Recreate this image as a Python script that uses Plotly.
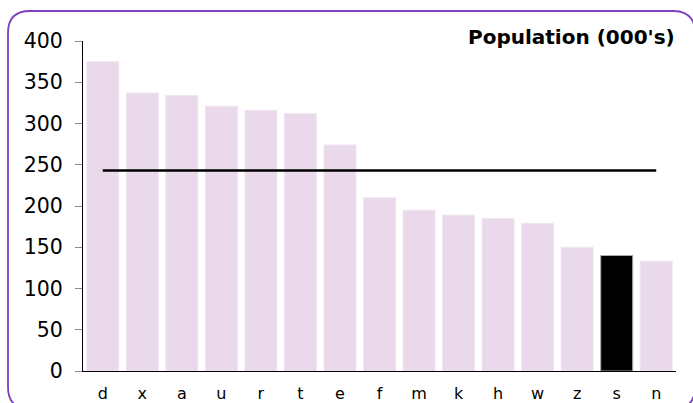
import plotly.graph_objects as go

categories = ["d", "x", "a", "u", "r", "t", "e", "f", "m", "k", "h", "w", "z", "s", "n"]
population = [375, 337, 334, 321, 316, 312, 274, 210, 195, 189, 185, 179, 150, 140, 133]
highlight = "s"
average = 243
y_ticks = [0, 50, 100, 150, 200, 250, 300, 350, 400]
title_text = "Population (000's)"

W, H = 693, 403
PLOT_L, PLOT_R, PLOT_T, PLOT_B = 83, 676, 41, 371  # pixels
ML, MR, MT, MB = PLOT_L, W - PLOT_R, PLOT_T, H - PLOT_B
PW, PH = PLOT_R - PLOT_L, PLOT_B - PLOT_T


def px(x):
    return (x - PLOT_L) / PW


def py(y):
    return (PLOT_B - y) / PH


pink = "rgb(234,217,235)"
colors = ["black" if c == highlight else pink for c in categories]
edges = ["rgb(170,170,170)" if c == highlight else "rgb(240,230,241)" for c in categories]

fig = go.Figure()
fig.add_trace(go.Bar(
    x=categories, y=population,
    marker=dict(color=colors, line=dict(color=edges, width=1)),
    showlegend=False, hoverinfo="x+y",
))
fig.add_trace(go.Scatter(
    x=categories, y=[average] * len(categories),
    mode="lines", line=dict(color="black", width=2.6),
    showlegend=False, hoverinfo="y",
))

# rounded border (pixels)
x0, x1, y0, y1, r = 8, 695, 11, 409, 22
path = (
    f"M {px(x0 + r)},{py(y0)} L {px(x1 - r)},{py(y0)} "
    f"Q {px(x1)},{py(y0)} {px(x1)},{py(y0 + r)} "
    f"L {px(x1)},{py(y1 - r)} Q {px(x1)},{py(y1)} {px(x1 - r)},{py(y1)} "
    f"L {px(x0 + r)},{py(y1)} Q {px(x0)},{py(y1)} {px(x0)},{py(y1 - r)} "
    f"L {px(x0)},{py(y0 + r)} Q {px(x0)},{py(y0)} {px(x0 + r)},{py(y0)} Z"
)
fig.add_shape(type="path", path=path, xref="paper", yref="paper",
              line=dict(color="rgb(128,64,190)", width=1.8), layer="above")

fig.add_annotation(
    text=f"<b>{title_text}</b>", xref="paper", yref="paper",
    x=px(677), y=py(37), xanchor="right", yanchor="middle",
    showarrow=False, font=dict(family="DejaVu Sans", size=20, color="black"),
)

fig.update_layout(
    width=W, height=H,
    margin=dict(l=ML, r=MR, t=MT, b=MB, pad=0, autoexpand=False),
    paper_bgcolor="white", plot_bgcolor="white",
    bargap=0.19,
    font=dict(family="DejaVu Sans", color="black"),
)
fig.update_xaxes(
    automargin=False,
    showline=True, linecolor="black", linewidth=1.2,
    ticks="", showgrid=False, tickfont=dict(size=16),
    ticklabelstandoff=8,
)
fig.update_yaxes(
    automargin=False,
    range=[0, 400], tickvals=y_ticks, showline=True, linecolor="black", linewidth=1.2,
    ticks="outside", ticklen=7, tickcolor="rgb(140,140,140)", tickwidth=1,
    showgrid=False, zeroline=False, tickfont=dict(size=20.5),
    ticklabelstandoff=8,
)

css_js = (
    "var d=document.documentElement,b=document.body;"
    "[d,b].forEach(function(e){e.style.margin='0';e.style.padding='0';"
    f"e.style.overflow='hidden';e.style.height='{H}px';e.style.width='{W}px';}});"
)

fig.write_html(
    "out.html",
    config={"displayModeBar": False},
    post_script=css_js,
)
